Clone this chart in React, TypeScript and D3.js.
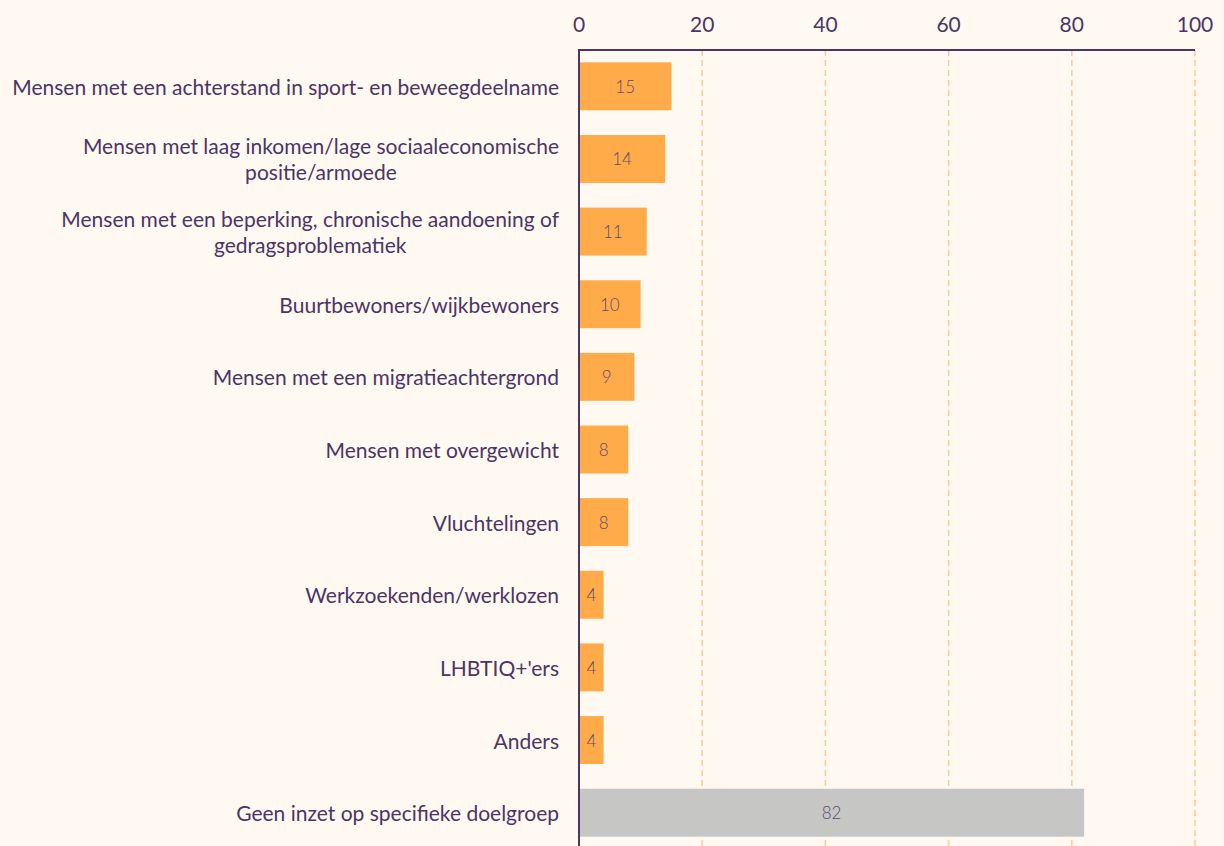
import React from "react";
import * as d3 from "d3";

const categories = [
  "Mensen met een achterstand in sport- en beweegdeelname",
  "Mensen met laag inkomen/lage sociaaleconomische\npositie/armoede",
  "Mensen met een beperking, chronische aandoening of\ngedragsproblematiek",
  "Buurtbewoners/wijkbewoners",
  "Mensen met een migratieachtergrond",
  "Mensen met overgewicht",
  "Vluchtelingen",
  "Werkzoekenden/werklozen",
  "LHBTIQ+'ers",
  "Anders",
  "Geen inzet op specifieke doelgroep",
];
const values = [15, 14, 11, 10, 9, 8, 8, 4, 4, 4, 82];
const highlight = [false, false, false, false, false, false, false, false, false, false, true];
const ticks = [0, 20, 40, 60, 80, 100];

const W = 1224;
const H = 846;
const BG = "#FFF9F2";
const AXIS = "#4A3566";
const ORANGE = "#FFAB4A";
const GREY = "#C6C6C4";
const GRID = "#FFCB8E";
const FONT = "Lato, 'Open Sans', sans-serif";
const LABEL_SIZE = 21;

let ctx: CanvasRenderingContext2D | null = null;
function measure(s: string): number {
  if (!ctx) {
    const c = document.createElement("canvas");
    ctx = c.getContext("2d");
  }
  if (!ctx) return s.length * 10;
  ctx.font = `${LABEL_SIZE}px Lato, 'Open Sans', sans-serif`;
  return ctx.measureText(s).width;
}

export default function App() {
  const x = d3.scaleLinear().domain([0, 100]).range([579, 1195]);
  const y = d3
    .scaleBand<number>()
    .domain(categories.map((_, i) => i))
    .range([50, 849])
    .paddingInner(0.34)
    .paddingOuter(0.17);
  const bw = y.bandwidth();
  const labelRight = 559;

  return (
    <div style={{ position: "absolute", left: 0, top: 0, width: W, height: H, background: BG }}>
      <svg width={W} height={H} style={{ display: "block", fontFamily: FONT }}>
        <rect x={0} y={0} width={W} height={H} fill={BG} />
        {ticks
          .filter((t) => t > 0)
          .map((t) => (
            <line
              key={"g" + t}
              x1={x(t)}
              x2={x(t)}
              y1={50}
              y2={H}
              stroke={GRID}
              strokeWidth={1.5}
              strokeDasharray="6,4"
            />
          ))}
        {values.map((v, i) => (
          <g key={"b" + i}>
            <rect
              x={x(0)}
              y={y(i)}
              width={x(v) - x(0)}
              height={bw}
              fill={highlight[i] ? GREY : ORANGE}
            />
            <text
              x={(x(0) + x(v)) / 2}
              y={(y(i) as number) + bw / 2}
              textAnchor="middle"
              dominantBaseline="central"
              fontSize={17}
              fontWeight={300}
              fill="#5E4C72"
            >
              {v}
            </text>
          </g>
        ))}
        {categories.map((c, i) => {
          const lines = c.split("\n");
          const cy = (y(i) as number) + bw / 2;
          const lh = 26;
          const multi = lines.length > 1;
          const maxW = multi ? Math.max(...lines.map(measure)) : 0;
          const ax = multi ? labelRight - maxW / 2 : labelRight;
          return (
            <text
              key={"l" + i}
              x={ax}
              textAnchor={multi ? "middle" : "end"}
              fontSize={LABEL_SIZE}
              fill={AXIS}
            >
              {lines.map((ln, j) => (
                <tspan
                  key={j}
                  x={ax}
                  y={cy + (j - (lines.length - 1) / 2) * lh}
                  dominantBaseline="central"
                >
                  {ln}
                </tspan>
              ))}
            </text>
          );
        })}
        <line x1={x(0)} x2={x(100)} y1={50} y2={50} stroke={AXIS} strokeWidth={2} />
        <line x1={x(0)} x2={x(0)} y1={49} y2={H} stroke={AXIS} strokeWidth={2} />
        {ticks.map((t) => (
          <text
            key={"t" + t}
            x={x(t)}
            y={23}
            textAnchor="middle"
            dominantBaseline="central"
            fontSize={21}
            fill={AXIS}
          >
            {t}
          </text>
        ))}
      </svg>
    </div>
  );
}
